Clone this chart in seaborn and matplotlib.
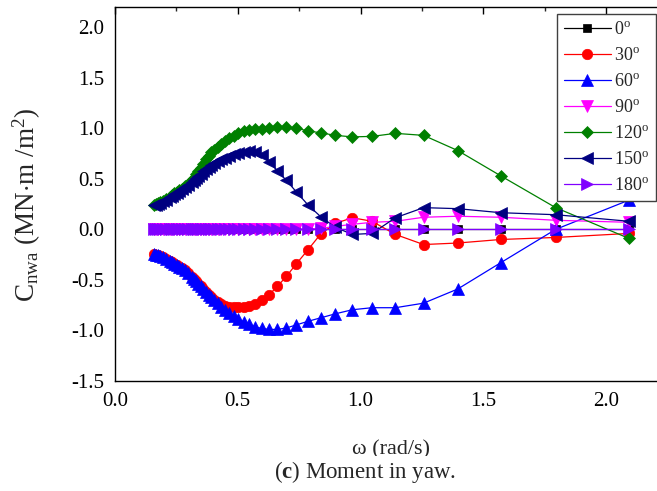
import matplotlib
matplotlib.use("Agg")
import matplotlib.pyplot as plt
import seaborn as sns
import pandas as pd
from matplotlib.ticker import MultipleLocator
from matplotlib.transforms import Bbox, TransformedBbox

# ---------------- data ----------------
omega = [0.157, 0.165, 0.175, 0.185, 0.196, 0.209, 0.224, 0.233, 0.242, 0.251,
         0.262, 0.273, 0.286, 0.299, 0.314, 0.322, 0.331, 0.340, 0.349, 0.359,
         0.370, 0.381, 0.393, 0.405, 0.419, 0.433, 0.449, 0.465, 0.483, 0.503,
         0.524, 0.546, 0.571, 0.598, 0.628, 0.661, 0.698, 0.739, 0.785, 0.838,
         0.898, 0.967, 1.047, 1.142, 1.257, 1.396, 1.571, 1.795, 2.094]

c_0 = [0.0, 0.0, 0.0, 0.0, 0.0, 0.0, 0.0, 0.0, 0.0, 0.0,
       0.0, 0.0, 0.0, 0.0, 0.0, 0.0, 0.0, 0.0, 0.0, 0.0,
       0.0, 0.0, 0.0, 0.0, 0.0, 0.0, 0.0, 0.0, 0.0, 0.0,
       0.0, 0.0, 0.0, 0.0, 0.0, 0.0, 0.0, 0.0, 0.0, 0.0,
       0.0, 0.0, 0.0, 0.0, 0.0, 0.0, 0.0, 0.0, 0.0]

c_30 = [-0.24, -0.25, -0.255, -0.26, -0.275, -0.29, -0.31, -0.325, -0.34, -0.355,
        -0.37, -0.385, -0.405, -0.43, -0.47, -0.49, -0.515, -0.54, -0.565, -0.59,
        -0.62, -0.645, -0.67, -0.695, -0.72, -0.74, -0.755, -0.765, -0.77, -0.77,
        -0.765, -0.755, -0.735, -0.70, -0.645, -0.565, -0.465, -0.34, -0.205, -0.045,
        0.06, 0.115, 0.08, -0.05, -0.15, -0.135, -0.10, -0.08, -0.04]

c_60 = [-0.24, -0.25, -0.255, -0.26, -0.275, -0.29, -0.31, -0.325, -0.34, -0.355,
        -0.37, -0.385, -0.405, -0.43, -0.47, -0.49, -0.515, -0.54, -0.565, -0.59,
        -0.62, -0.645, -0.67, -0.70, -0.73, -0.765, -0.795, -0.825, -0.86, -0.89,
        -0.915, -0.94, -0.965, -0.98, -0.99, -0.99, -0.975, -0.945, -0.91, -0.875,
        -0.835, -0.795, -0.775, -0.775, -0.73, -0.59, -0.33, 0.0, 0.29]

c_90 = [0.0, 0.0, 0.0, 0.0, 0.0, 0.0, 0.0, 0.0, 0.0, 0.0,
        0.0, 0.0, 0.0, 0.0, 0.0, 0.0, 0.0, 0.0, 0.0, 0.0,
        0.0, 0.0, 0.0, 0.0, 0.0, 0.0, 0.0, 0.0, 0.0, 0.0,
        0.0, 0.0, 0.0, 0.0, 0.0, 0.0, 0.0, 0.0, 0.005, 0.01,
        0.03, 0.05, 0.07, 0.08, 0.12, 0.13, 0.12, 0.09, 0.07]

c_120 = [0.245, 0.25, 0.26, 0.27, 0.285, 0.30, 0.325, 0.34, 0.355, 0.37,
         0.385, 0.40, 0.425, 0.45, 0.49, 0.51, 0.55, 0.58, 0.61, 0.65,
         0.70, 0.73, 0.765, 0.79, 0.815, 0.84, 0.87, 0.90, 0.925, 0.95,
         0.97, 0.985, 0.99, 0.995, 1.0, 1.01, 1.01, 1.0, 0.975, 0.955,
         0.93, 0.915, 0.92, 0.95, 0.93, 0.78, 0.53, 0.215, -0.09]

c_150 = [0.24, 0.245, 0.255, 0.265, 0.28, 0.295, 0.32, 0.335, 0.35, 0.36,
         0.38, 0.395, 0.415, 0.435, 0.47, 0.49, 0.51, 0.53, 0.55, 0.575,
         0.595, 0.615, 0.64, 0.66, 0.68, 0.695, 0.71, 0.725, 0.745, 0.76,
         0.77, 0.775, 0.77, 0.74, 0.67, 0.58, 0.485, 0.37, 0.245, 0.125,
         0.02, -0.05, -0.04, 0.115, 0.215, 0.205, 0.165, 0.145, 0.08]

c_180 = [0.0, 0.0, 0.0, 0.0, 0.0, 0.0, 0.0, 0.0, 0.0, 0.0,
         0.0, 0.0, 0.0, 0.0, 0.0, 0.0, 0.0, 0.0, 0.0, 0.0,
         0.0, 0.0, 0.0, 0.0, 0.0, 0.0, 0.0, 0.0, 0.0, 0.0,
         0.0, 0.0, 0.0, 0.0, 0.0, 0.0, 0.0, 0.0, 0.0, 0.0,
         0.0, 0.0, 0.0, 0.0, 0.0, 0.0, 0.0, 0.0, 0.0]

headings = ["0", "30", "60", "90", "120", "150", "180"]
series = [c_0, c_30, c_60, c_90, c_120, c_150, c_180]

xtick_vals = [0.0, 0.5, 1.0, 1.5, 2.0]
xtick_text = ["0.0", "0.5", "1.0", "1.5", "2.0"]
ytick_vals = [-1.5, -1.0, -0.5, 0.0, 0.5, 1.0, 1.5, 2.0]
ytick_text = ["-1.5", "-1.0", "-0.5", "0.0", "0.5", "1.0", "1.5", "2.0"]

# ---------------- style ----------------
sns.set_style("white")
plt.rcParams["font.family"] = ["Liberation Serif", "DejaVu Serif"]
plt.rcParams["mathtext.fontset"] = "custom"
plt.rcParams["mathtext.rm"] = "Liberation Serif"
plt.rcParams["mathtext.it"] = "Liberation Serif:italic"
plt.rcParams["mathtext.bf"] = "Liberation Serif:bold"

colors = ["#000000", "#FF0000", "#0000FF", "#FF00FF", "#008000", "#000080", "#8000FF"]
markers = ["s", "o", "^", "v", "D", "<", ">"]
msizes = [6.0, 7.5, 8.0, 8.0, 6.5, 8.0, 8.0]

W, H = 657, 491
fig = plt.figure(figsize=(W / 100, H / 100), dpi=100)
# axis: x=0 at px 115, 245.5 px per unit; y=-1.5 at px 381, y=2.2 at px 7
ax_w = 2.25 * 245.5
ax = fig.add_axes([115 / W, (H - 381) / H, ax_w / W, 374 / H])

for h, vals, col, mk, ms in zip(headings, series, colors, markers, msizes):
    df = pd.DataFrame({"omega": omega, "C": vals})
    sns.lineplot(data=df, x="omega", y="C", ax=ax, color=col, marker=mk,
                 markersize=ms, markeredgecolor=col, markeredgewidth=0.5,
                 linewidth=0.9, estimator=None, sort=False,
                 label=h + r"$^{\rm o}$")

ax.set_xlim(0, 2.25)
ax.set_ylim(-1.5, 2.2)
ax.xaxis.set_minor_locator(MultipleLocator(0.25))
ax.yaxis.set_minor_locator(MultipleLocator(0.25))
ax.set_xticks(xtick_vals)
ax.set_xticklabels(xtick_text)
ax.set_yticks(ytick_vals)
ax.set_yticklabels(ytick_text)

for s in ax.spines.values():
    s.set_linewidth(1.0)
    s.set_color("black")

ax.tick_params(axis="both", which="major", direction="out", length=5, width=1,
               labelsize=15, colors="black", pad=3)
ax.tick_params(axis="both", which="minor", direction="out", length=3, width=1)
ax.tick_params(axis="x", which="both", top=True, labeltop=False)

# top ticks point inward
for t in ax.xaxis.get_major_ticks() + ax.xaxis.get_minor_ticks():
    t.tick2line.set_marker(3)

ax.set_xlabel("")
ax.set_ylabel(r"C$_{\rm nwa}$ (MN$\cdot$m /m$^{2}$)", fontsize=19.5)
ax.yaxis.set_label_coords(-(115 - 43) / ax_w, (381 - 205) / 374)

leg = ax.legend(loc="upper right", bbox_to_anchor=((656 - 115) / ax_w, (381 - 14) / 374),
                fontsize=13, frameon=True, fancybox=False, framealpha=1,
                edgecolor="0.25", handlelength=2.6, labelspacing=0.5,
                borderpad=0.38, handletextpad=0.2, borderaxespad=0.0)
leg.get_frame().set_linewidth(1.0)

# x label (lower part hidden under the caption, as in the source)
xl = fig.text(352 / W, (H - 459) / H, "\u03c9 (rad/s)", fontsize=16,
              ha="left", va="bottom")
xl.set_clip_box(TransformedBbox(Bbox([[0, (H - 456) / H], [1, 1]]), fig.transFigure))
xl.set_clip_on(True)

fig.text(365 / W, (H - 472) / H, r"($\mathbf{c}$) Moment in yaw.", fontsize=16.5,
         ha="center", va="center")

fig.savefig("out.png", dpi=100)
